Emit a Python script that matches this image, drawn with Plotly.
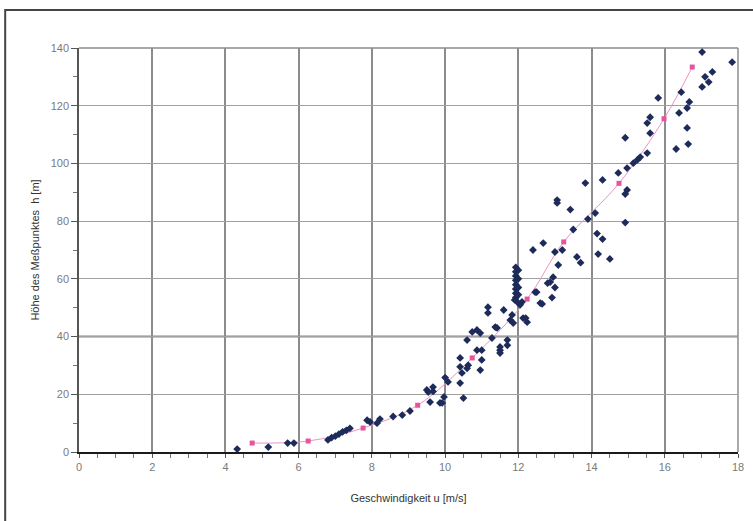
import plotly.graph_objects as go

# Messwerte (Geschwindigkeit u [m/s], Höhe h [m])
u_obs = [4.32, 5.17, 5.70, 5.87,
         6.80, 6.90, 7.00, 7.10, 7.20, 7.30, 7.40,
         7.87, 7.95, 8.14, 8.22, 8.58, 8.83, 9.04,
         9.50, 9.54, 9.59, 9.67, 9.67, 9.86, 9.92, 9.97, 10.00, 10.08,
         10.41, 10.41, 10.41, 10.46, 10.50, 10.60, 10.63, 10.60,
         10.74, 10.87, 10.96, 10.96, 11.00, 11.00, 10.87,
         11.17, 11.17, 11.28, 11.37, 11.42, 11.50, 11.50, 11.50, 11.60, 11.70, 11.70,
         11.78, 11.83, 11.86, 11.90,
         11.93, 11.93, 11.93, 11.93, 11.93, 11.93, 11.93, 11.93,
         12.00, 12.00, 12.00, 12.00, 12.00,
         12.05, 12.10, 12.13, 12.20, 12.24,
         12.40, 12.46, 12.50, 12.60, 12.65, 12.68, 12.80, 12.87, 12.92, 12.95,
         13.00, 13.00, 13.06, 13.06, 13.09, 13.20, 13.42, 13.50, 13.60, 13.70,
         13.83, 13.90, 14.10, 14.15, 14.18, 14.30, 14.30, 14.50, 14.73,
         14.92, 14.92, 14.92, 14.97, 14.97, 15.14, 15.25, 15.33, 15.52, 15.52,
         15.60, 15.60, 15.82, 16.31, 16.39, 16.45, 16.61, 16.61, 16.64, 16.67,
         17.02, 17.02, 17.10, 17.20, 17.30, 17.84]
h_obs = [1.0, 1.7, 3.1, 3.1,
         4.2, 5.0, 5.5, 6.2, 7.0, 7.5, 8.2,
         11.0, 10.4, 10.0, 11.4, 12.3, 12.8, 14.2,
         21.5, 20.8, 17.3, 22.5, 21.0, 17.0, 17.0, 19.1, 25.8, 24.3,
         23.9, 29.5, 32.6, 27.4, 18.7, 38.8, 30.1, 29.0,
         41.6, 42.3, 41.2, 28.4, 35.3, 31.9, 35.3,
         50.2, 48.2, 39.5, 43.3, 43.0, 35.3, 36.4, 34.3, 49.2, 37.0, 38.8,
         45.7, 47.5, 44.7, 52.7,
         64.0, 62.5, 61.0, 59.5, 58.0, 56.5, 55.0, 53.5,
         63.0, 60.0, 57.0, 54.5, 51.6,
         51.0, 52.0, 46.4, 46.4, 45.0,
         70.0, 55.4, 55.4, 51.6, 51.3, 72.4, 58.5, 58.9, 53.5, 60.6,
         69.3, 57.0, 87.3, 86.3, 64.8, 70.0, 84.0, 77.1, 67.6, 65.6,
         93.2, 80.7, 82.8, 75.7, 68.6, 94.3, 73.8, 66.9, 96.7,
         108.9, 79.5, 89.4, 98.4, 90.8, 100.1, 101.2, 102.2, 103.6, 114.0,
         110.5, 116.0, 122.7, 105.0, 117.5, 124.7, 112.3, 119.2, 106.7, 121.3,
         126.5, 138.6, 130.0, 128.2, 131.7, 135.1]

# Mittelwerte / Ausgleichskurve
u_mean = [4.73, 6.26, 7.76, 9.25, 10.74, 12.24, 13.24, 14.75, 15.98, 16.75]
h_mean = [3.1, 3.8, 8.3, 16.2, 32.6, 53.0, 72.8, 93.1, 115.5, 133.4]

x_ticks = [0, 2, 4, 6, 8, 10, 12, 14, 16, 18]
y_ticks = [0, 20, 40, 60, 80, 100, 120, 140]

fig = go.Figure()
fig.add_trace(go.Scatter(
    x=u_mean, y=h_mean, mode="lines+markers",
    line=dict(color="#eb93c4", width=1, shape="spline"),
    marker=dict(symbol="square", size=5, color="#e5549f"),
    showlegend=False))
fig.add_trace(go.Scatter(
    x=u_obs, y=h_obs, mode="markers",
    marker=dict(symbol="diamond", size=6, color="#1d2b5a"),
    showlegend=False))

axis_font = dict(family="Liberation Sans, Arial, sans-serif", size=11, color="#7a7a7a")
fig.update_layout(
    width=753, height=521,
    margin=dict(l=79, r=15, t=48, b=69),
    paper_bgcolor="white", plot_bgcolor="white",
    font=dict(family="Liberation Sans, Arial, sans-serif"),
    xaxis=dict(
        range=[0, 18], tickvals=x_ticks, ticktext=[str(v) for v in x_ticks],
        showgrid=True, gridcolor="#8c8c8c", gridwidth=1.5,
        showline=True, linecolor="#1a1a1a", linewidth=1.5,
        ticks="outside", ticklen=4, tickcolor="#555",
        minor=dict(dtick=0.5, tick0=0, ticks="outside", ticklen=4, tickcolor="#777", showgrid=False),
        zeroline=False, tickfont=axis_font, automargin=False,
        title=dict(text="Geschwindigkeit u [m/s]",
                   font=dict(size=11, color="#333"), standoff=22),
    ),
    yaxis=dict(
        range=[0, 140], tickvals=y_ticks, ticktext=[str(v) for v in y_ticks],
        showgrid=True, gridcolor="#a0a0a0", gridwidth=1,
        showline=True, linecolor="#555", linewidth=1.5,
        ticks="outside", ticklen=6, tickcolor="#555",
        minor=dict(dtick=10, tick0=0, ticks="outside", ticklen=4, tickcolor="#777", showgrid=False),
        zeroline=False, tickfont=axis_font, automargin=False,
        title=dict(text="Höhe des Meßpunktes  h [m]",
                   font=dict(size=11, color="#333"), standoff=9),
    ),
    shapes=[
        dict(type="line", xref="paper", yref="y", x0=0, x1=1, y0=40, y1=40,
             line=dict(color="#111", width=1.5), layer="below"),
        dict(type="line", xref="paper", yref="paper", x0=0, x1=1, y0=1, y1=1,
             line=dict(color="#8c8c8c", width=1.5), layer="below"),
        dict(type="line", xref="paper", yref="paper", x0=1, x1=1, y0=0, y1=1,
             line=dict(color="#8c8c8c", width=1.5), layer="below"),
        dict(type="rect", xref="paper", yref="paper", x0=-0.112, x1=1.1, y0=-0.3, y1=1.094,
             line=dict(color="#444", width=2), fillcolor="rgba(0,0,0,0)"),
    ],
)

fig.write_html("out.html", config={"displayModeBar": False},
               post_script="document.body.style.margin='0';")
